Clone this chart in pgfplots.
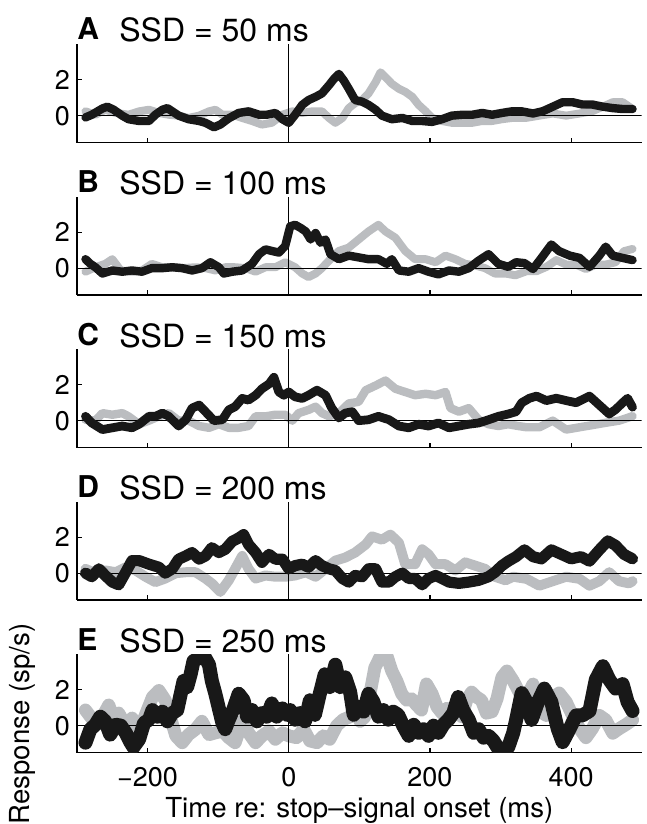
\documentclass[border=0pt]{standalone}
\usepackage{pgfplots}
\pgfplotsset{compat=1.18}
\usepackage{fontspec}
\setmainfont{TeX Gyre Heros}
\definecolor{bandgray}{RGB}{187,189,192}
\definecolor{bandblack}{RGB}{24,24,24}
\pgfplotsset{
 panel/.style={
  at={(38.5pt,#1)}, anchor=south west,
  width=282.35pt, height=49.25pt, scale only axis,
  xmin=-300,xmax=500,ymin=-1.5,ymax=4,
  axis x line=bottom, axis y line=left,
  axis line style={-,line width=0.6pt,black},
  xtick={-200,0,200,400}, ytick={0,2},
  xticklabels={},
  tick align=inside, major tick length=2.5pt,
  tick style={line width=0.6pt,black},
  ticklabel style={font=\fontsize{13.5}{15}\selectfont},
  /pgf/number format/assume math mode=true,
  clip=true,
 },
 gband/.style={bandgray, line width=#1, line join=round, line cap=round},
 kband/.style={bandblack, line width=#1, line join=round, line cap=round},
 refline/.style={black, line width=0.5pt},
}
\newcommand{\reflines}{%
  \addplot[refline] coordinates {(0,-1.5)(0,4)};
  \addplot[refline] coordinates {(-300,0)(500,0)};
}
\newcommand{\paneltitle}[3]{%
  \node[anchor=base west, inner sep=0pt, font=\bfseries\fontsize{15}{17}\selectfont] at (38.5pt,#1+2pt) {#2};
  \node[anchor=base west, inner sep=0pt, font=\fontsize{16}{19}\selectfont] at (59.5pt,#1+1pt) {#3};
}
\begin{document}
\begin{tikzpicture}
\useasboundingbox (0,0) rectangle (323.5pt,-412pt);

% ---------------- Panel A ----------------
\begin{axis}[panel=-71.25pt]
\addplot[gband=4pt] coordinates {(-288,0.24)(-274,0.05)(-260,0.33)(-245,0.15)(-227,0.05)(-212,0.24)(-198,0.33)(-184,0.15)(-170,0.05)(-156,0)(-142,-0.13)(-127,0)(-113,0.24)(-104,0.33)(-94,0.05)(-80,0.05)(-66,-0.13)(-52,-0.3)(-38,-0.5)(-24,-0.4)(-9,0.05)(5,0.24)(19,0.15)(33,0.24)(47,0.24)(57,-0.13)(66,-0.4)(76,-0.13)(85,0.42)(94,0.7)(104,0.87)(113,1.24)(123,1.87)(130,2.42)(137,2.15)(146,1.78)(156,1.5)(165,1.33)(175,1.05)(184,0.6)(194,0.24)(203,-0.13)(217,-0.3)(231,-0.4)(246,-0.4)(260,-0.4)(274,-0.3)(288,-0.3)(302,-0.2)(316,-0.13)(337,-0.12)(355,0)(374,0.12)(393,0)(412,0.12)(430,0.25)(445,0.5)(459,0.75)(473,0.75)(487,0.37)};
\reflines
\addplot[kband=4.2pt] coordinates {(-288,-0.1)(-279,0.05)(-264,0.4)(-257,0.5)(-248,0.33)(-236,0)(-227,-0.2)(-212,-0.3)(-198,-0.3)(-189,0.05)(-179,0.33)(-172,0.42)(-165,0.24)(-156,0)(-142,-0.2)(-127,-0.3)(-118,-0.4)(-106,-0.65)(-97,-0.5)(-85,-0.15)(-71,0.15)(-57,0.24)(-42,0.05)(-31,0.05)(-19,0.15)(-9,-0.2)(0,-0.4)(9,0.05)(19,0.6)(28,0.87)(38,1.05)(47,1.24)(57,1.7)(64,2.05)(71,2.33)(78,1.96)(85,1.5)(94,0.87)(104,0.78)(113,0.6)(123,0.33)(132,0)(146,-0.2)(161,-0.13)(175,-0.3)(189,-0.3)(203,-0.35)(217,-0.2)(231,0)(246,0.05)(260,0.05)(274,0.15)(288,0.05)(302,0.15)(316,0.24)(330,0.24)(346,0.12)(360,0.25)(374,0.5)(388,0.75)(402,0.75)(416,0.62)(430,0.62)(445,0.5)(459,0.42)(473,0.37)(487,0.37)};
\end{axis}

% ---------------- Panel B ----------------
\begin{axis}[panel=-147.5pt]
\addplot[gband=4pt] coordinates {(-288,-0.2)(-274,0.05)(-260,0.24)(-250,0.5)(-238,-0.13)(-222,-0.2)(-208,-0.13)(-194,0.24)(-179,0.05)(-165,0.05)(-151,0)(-132,0.05)(-118,0)(-104,-0.13)(-90,0.05)(-76,0.05)(-61,0)(-47,-0.2)(-33,0.05)(-19,0.05)(-5,0.33)(9,0.05)(19,-0.3)(28,-0.5)(38,-0.3)(47,0)(57,0.42)(71,0.96)(85,1.15)(99,1.6)(113,2.05)(127,2.42)(137,2.05)(151,1.7)(165,0.96)(179,0.5)(194,0.5)(208,0.33)(222,0.7)(236,0.5)(250,0.24)(264,0.15)(278,0)(292,-0.3)(307,-0.3)(321,-0.4)(337,-0.17)(351,-0.17)(365,0.07)(379,0.45)(393,0.2)(407,0.2)(421,-0.05)(435,0.2)(449,0.2)(463,0.33)(475,0.95)(487,1.07)};
\reflines
\addplot[kband=4.2pt] coordinates {(-288,0.5)(-281,0.24)(-274,0.05)(-264,-0.3)(-250,-0.13)(-236,-0.2)(-222,-0.13)(-208,-0.2)(-194,0)(-179,0)(-165,0.05)(-151,0)(-137,-0.13)(-123,0)(-111,0.33)(-99,0.05)(-92,-0.3)(-80,-0.2)(-66,-0.13)(-52,0.24)(-42,0.78)(-33,1.05)(-24,0.96)(-14,0.87)(-5,1.24)(2,2.33)(9,2.42)(17,2.24)(24,2.05)(31,1.6)(38,1.96)(45,1.42)(52,1.6)(59,0.78)(71,0.5)(85,0.7)(99,0.6)(113,0.5)(127,0.5)(139,0.24)(146,0.5)(156,-0.13)(170,-0.2)(184,0)(198,-0.2)(212,-0.35)(227,-0.13)(241,-0.2)(255,0)(269,0.42)(283,0.78)(297,0.24)(311,0.07)(322,0.33)(334,0.28)(346,-0.05)(358,0.57)(372,1.32)(383,0.95)(398,0.7)(412,0.57)(426,0.07)(440,0.7)(449,1.2)(459,0.7)(473,0.57)(487,0.45)};
\end{axis}

% ---------------- Panel C ----------------
\begin{axis}[panel=-223.75pt]
\addplot[gband=4.2pt] coordinates {(-288,0.05)(-274,0)(-264,0.42)(-250,0.33)(-236,0.42)(-227,0.24)(-212,-0.2)(-198,0)(-184,0.24)(-170,0.42)(-156,0)(-142,0)(-127,-0.3)(-113,-0.4)(-99,-0.2)(-85,-0.4)(-71,-0.4)(-57,-0.3)(-47,0.24)(-33,0.24)(-19,0.33)(-5,0.33)(5,0)(14,0.42)(28,0.6)(38,0.78)(47,0.42)(57,0.24)(71,0.42)(85,0.96)(99,1.05)(109,1.7)(123,1.96)(137,2.24)(151,1.78)(165,1.6)(179,1.42)(194,1.5)(208,1.42)(222,1.6)(229,0.7)(241,0.5)(255,0.7)(269,0.05)(283,-0.2)(297,-0.3)(311,-0.2)(325,-0.3)(337,-0.37)(355,-0.37)(374,0)(393,-0.5)(412,-0.37)(430,-0.25)(449,-0.12)(468,0)(487,0.25)};
\reflines
\addplot[kband=4.4pt] coordinates {(-288,0.24)(-279,-0.13)(-264,-0.5)(-250,-0.4)(-236,-0.3)(-222,-0.4)(-212,-0.2)(-198,0.24)(-189,0.24)(-179,0.42)(-170,0.24)(-156,-0.3)(-146,0.05)(-137,0.7)(-127,0.87)(-118,0.5)(-106,0)(-94,0.05)(-85,0.6)(-76,0.78)(-66,1.24)(-57,1.15)(-47,1.42)(-38,1.78)(-28,2.05)(-21,2.42)(-14,1.6)(-7,1.42)(0,1.6)(9,1.33)(19,1.24)(28,1.42)(40,1.7)(52,1.42)(61,0.7)(71,0.15)(80,0.42)(90,0.5)(99,0)(113,0.05)(127,0.24)(142,0.05)(156,-0.3)(170,-0.4)(184,-0.2)(198,-0.3)(212,-0.13)(227,-0.4)(241,-0.3)(255,-0.2)(269,-0.13)(283,0.05)(297,0.24)(311,0.37)(322,0.5)(330,1.0)(341,1.25)(351,1.37)(365,1.12)(379,1.25)(393,1.12)(407,1.0)(426,1.37)(440,0.87)(454,0.37)(463,0.62)(473,1.0)(480,1.25)(487,0.75)};
\end{axis}

% ---------------- Panel D ----------------
\begin{axis}[panel=-300pt]
\addplot[gband=5pt] coordinates {(-288,0.24)(-274,0)(-260,0.15)(-245,0.05)(-231,0.33)(-217,0.15)(-203,-0.2)(-189,-0.5)(-175,-0.3)(-160,0)(-146,0.05)(-132,0.05)(-118,-0.3)(-109,-0.57)(-97,-1.05)(-85,-0.4)(-76,0.24)(-66,0.96)(-57,0.24)(-47,-0.3)(-33,-0.13)(-19,-0.2)(-5,-0.2)(9,-0.13)(24,0.05)(38,-0.2)(52,0.24)(66,0.7)(80,0.87)(94,1.15)(109,1.6)(118,2.05)(132,1.87)(144,2.15)(156,1.7)(165,0.5)(179,0.5)(189,1.33)(198,1.05)(208,0.5)(222,0.5)(236,0.15)(250,0.6)(264,0.42)(278,0.24)(292,-0.2)(307,-0.4)(318,-0.2)(337,-0.32)(355,-0.7)(374,-0.45)(393,-0.2)(412,-0.32)(426,-0.7)(440,-0.45)(454,0.05)(468,-0.45)(482,-0.57)(487,-0.45)};
\reflines
\addplot[kband=5.6pt] coordinates {(-288,0)(-279,-0.2)(-269,0.24)(-260,-0.13)(-250,-0.5)(-241,-0.65)(-231,0.05)(-222,0.7)(-212,0.7)(-198,0.5)(-184,0.33)(-175,0)(-165,0.24)(-156,0.78)(-146,0.96)(-137,1.15)(-127,0.78)(-118,0.96)(-109,1.42)(-99,1.15)(-90,1.33)(-80,1.78)(-71,1.96)(-64,2.15)(-57,1.6)(-47,1.15)(-38,0.6)(-28,1.05)(-19,0.78)(-9,0.78)(0,0.24)(9,0.42)(19,0.5)(28,0.33)(38,0.7)(47,0.42)(57,0.24)(66,0.15)(76,-0.3)(85,-0.5)(94,-0.13)(104,-0.2)(113,0.24)(123,0.24)(132,-0.5)(142,-0.5)(151,-0.2)(161,0)(170,-0.3)(179,-0.3)(189,-0.65)(198,-0.3)(208,-0.13)(217,-0.3)(227,-0.5)(241,-0.57)(255,-0.5)(269,-0.4)(283,-0.2)(292,0.05)(302,0.42)(311,0.67)(322,0.92)(334,1.3)(346,0.92)(358,0.8)(372,1.3)(386,1.05)(400,0.8)(414,0.92)(426,0.67)(440,1.3)(452,1.8)(463,1.55)(475,1.05)(487,0.8)};
\end{axis}

% ---------------- Panel E ----------------
\begin{axis}[panel=-376.25pt, xticklabels={−200,0,200,400},
  xticklabel style={yshift=-4pt}]
\addplot[gband=6.5pt] coordinates {(-288,0.87)(-281,0.5)(-274,0.15)(-264,0.5)(-255,1.15)(-248,0.33)(-241,0.7)(-231,0)(-222,0.42)(-212,-0.3)(-203,0.6)(-193,1.6)(-184,1.96)(-175,1.42)(-168,0.5)(-160,-0.57)(-151,-0.95)(-142,-0.5)(-132,-0.2)(-123,0.24)(-113,-0.5)(-104,-0.4)(-94,-0.3)(-85,-0.67)(-76,-0.95)(-66,0.24)(-57,-0.4)(-47,-0.95)(-38,-0.57)(-28,-0.3)(-19,-0.76)(-9,-0.4)(0,-0.57)(11,-0.67)(21,-0.2)(30,-0.85)(40,-0.95)(49,-0.57)(58,-0.76)(68,0)(77,0.33)(87,0.5)(94,1.05)(101,0.24)(108,0.5)(115,1.78)(122,3.24)(129,3.8)(139,3.9)(146,3.05)(153,2.5)(160,1.78)(167,1.42)(174,1.5)(181,1.15)(188,0.87)(195,2.33)(203,1.78)(210,1.05)(217,0.7)(224,0.96)(231,0.5)(238,1.05)(245,0.5)(252,1.42)(259,1.87)(266,1.6)(273,1.42)(280,0.7)(288,0.78)(295,1.5)(302,2.7)(309,3.05)(318,2.5)(327,1.82)(337,1.57)(346,2.32)(355,0.82)(365,0.57)(374,1.57)(383,1.82)(393,1.32)(402,0.57)(412,-0.17)(421,-0.67)(430,-0.17)(440,0.57)(449,0.32)(459,-0.42)(468,-0.17)(478,0.07)(487,0.32)};
\reflines
\addplot[kband=7pt] coordinates {(-288,-0.95)(-281,-0.2)(-274,0.05)(-267,0.5)(-260,0.24)(-253,-0.5)(-245,0.05)(-238,0)(-231,-0.4)(-224,-0.95)(-220,-1.2)(-212,-0.76)(-205,0.15)(-198,0.33)(-193,0.87)(-186,0.5)(-179,0.78)(-172,0.24)(-165,0.7)(-158,0.87)(-153,1.78)(-149,2.5)(-144,2.15)(-139,2.87)(-135,3.6)(-127,3.8)(-120,3.9)(-113,3.4)(-109,2.5)(-104,1.78)(-99,0.96)(-94,0.15)(-90,-0.2)(-85,0.33)(-78,0.96)(-71,1.78)(-64,1.42)(-59,0.5)(-52,0.87)(-45,0.24)(-38,0.7)(-31,0.5)(-24,1.24)(-17,0.5)(-9,0.96)(-2,0.6)(2,0.87)(9,0.33)(16,0.7)(23,0.24)(30,1.42)(37,0.6)(44,1.78)(51,2.87)(58,2.15)(66,3.4)(73,2.15)(80,2.7)(87,1.87)(92,0.6)(99,1.05)(106,0.78)(113,1.78)(120,1.33)(127,0.5)(134,0.87)(141,0.33)(148,0.78)(155,0.6)(162,0)(170,-0.57)(177,0.05)(184,-0.4)(191,-0.2)(198,-0.57)(205,0)(212,-0.4)(219,0.05)(226,0.33)(233,0.7)(240,1.6)(247,0.87)(255,0.33)(262,-0.4)(269,-0.2)(276,-0.67)(283,-0.57)(290,-0.85)(297,-1.3)(304,-1.3)(311,-1.2)(318,-0.4)(322,0.3)(330,1.82)(337,1.32)(344,0.32)(353,1.32)(362,2.07)(372,1.32)(381,-0.17)(388,-0.92)(398,-0.17)(407,0.57)(416,0.57)(426,0.82)(435,2.57)(445,3.32)(454,2.57)(463,2.07)(473,2.32)(480,1.32)(487,0.82)};
\end{axis}

\paneltitle{-22pt}{A}{SSD = 50 ms}
\paneltitle{-98.25pt}{B}{SSD = 100 ms}
\paneltitle{-174.5pt}{C}{SSD = 150 ms}
\paneltitle{-250.75pt}{D}{SSD = 200 ms}
\paneltitle{-327pt}{E}{SSD = 250 ms}

\node[anchor=base, inner sep=0pt, font=\fontsize{13.8}{16}\selectfont] at (179.7pt,-408.5pt) {Time re: stop–signal onset (ms)};
\node[rotate=90, anchor=center, inner sep=0pt, font=\fontsize{13.8}{16}\selectfont] at (11pt,-362pt) {Response (sp/s)};
\end{tikzpicture}
\end{document}
